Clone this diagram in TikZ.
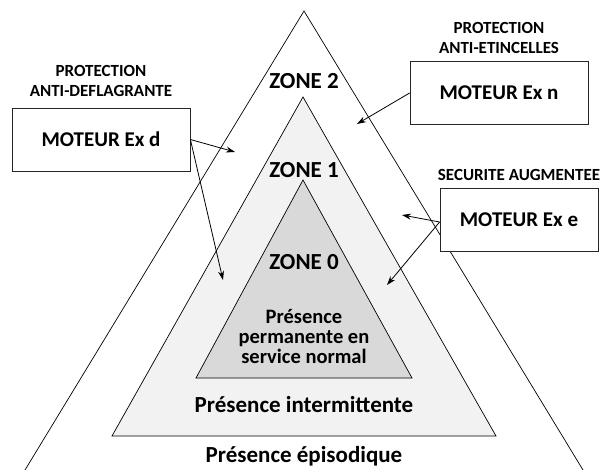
\documentclass[tikz,border=0pt]{standalone}
\usepackage{fontspec}
\setmainfont{Carlito}
\usetikzlibrary{arrows.meta}
\definecolor{zoneone}{HTML}{F2F2F2}
\definecolor{zonezero}{HTML}{D9D9D9}
\tikzset{
  tri/.style={draw=black, line width=0.7pt, line join=miter},
  motbox/.style={draw=black!85, line width=0.8pt, fill=white, minimum width=178pt, minimum height=63pt, inner sep=0pt, font=\bfseries\fontsize{21}{24}\selectfont},
  motboxe/.style={motbox, minimum width=158pt},
  lbl/.style={inner sep=0pt, align=center, font=\bfseries\fontsize{17}{20}\selectfont},
  zonelbl/.style={inner sep=0pt, font=\bfseries\fontsize{23}{26}\selectfont},
  pres/.style={inner sep=0pt, align=center, font=\bfseries\fontsize{20.5}{20}\selectfont},
  arr/.style={draw=black, line width=0.8pt, -{Stealth[length=9pt,width=6pt]}},
}
\begin{document}
\begin{tikzpicture}[x=1pt,y=-1pt]
\useasboundingbox (0,0) rectangle (605,470);
% triangles
\draw[tri] (25,470) -- (304,11) -- (583,470);
\filldraw[tri, fill=zoneone] (112,436) -- (303,97) -- (496,436) -- cycle;
\filldraw[tri, fill=zonezero] (196,378) -- (303,180) -- (412,378) -- cycle;
% zone labels
\node[zonelbl] (z2) at (304,81) {ZONE 2};
\node[zonelbl] (z1) at (304,170) {ZONE 1};
\node[zonelbl] (z0) at (304,262) {ZONE 0};
\node[pres] (p0) at (304,336) {Présence\\permanente en\\service normal};
\node[zonelbl] (p1) at (304,405) {Présence intermittente};
\node[zonelbl] (p2) at (304,456) {Présence épisodique};
% boxes
\node[motbox] (exd) at (101,139.5) {MOTEUR Ex d};
\node[motbox] (exn) at (499,93) {MOTEUR Ex n};
\node[motboxe] (exe) at (519,220) {MOTEUR Ex e};
\node[lbl] (ld) at (101,80.5) {PROTECTION\\ANTI-DEFLAGRANTE};
\node[lbl] (ln) at (499,37.5) {PROTECTION\\ANTI-ETINCELLES};
\node[lbl] (le) at (519,175) {SECURITE AUGMENTEE};
% arrow targets
\coordinate (td1) at (235,152);
\coordinate (td2) at (223,280);
\coordinate (tn) at (357,124);
\coordinate (te1) at (402,215);
\coordinate (te2) at (387,285);
\draw[arr] (exd.east) -- (td1);
\draw[arr] (exd.east) -- (td2);
\draw[arr] (exn.west) -- (tn);
\draw[arr] ([yshift=-2pt]exe.west) -- (te1);
\draw[arr] ([yshift=-2pt]exe.west) -- (te2);
\end{tikzpicture}
\end{document}
